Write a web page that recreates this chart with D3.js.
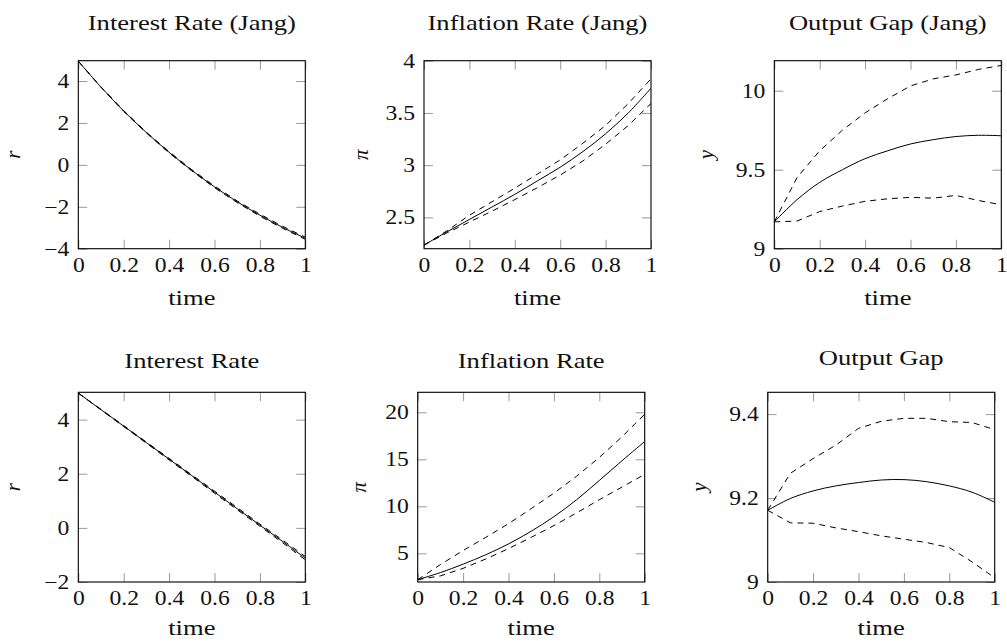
<!doctype html>
<html lang="en">
<head>
    <meta charset="UTF-8">
    <title>Interest, Inflation and Output Gap paths</title>
    <script src="https://d3js.org/d3.v7.min.js"></script>
    <style>
        body { margin: 0; background: #fff; }
        svg text { font-family: "Liberation Serif", "Times New Roman", serif; fill: #111; font-weight: normal; }
        .ticklab { font-size: 20px; }
        .label { font-size: 20px; }
        .ylab { font-size: 21px; font-style: italic; }
    </style>
</head>
<body>
<svg id="chart" width="1007" height="641"></svg>
<script>

    //shared time grid and ticks
    const time = [0, 0.1, 0.2, 0.3, 0.4, 0.5, 0.6, 0.7, 0.8, 0.9, 1];
    const timeTicks = [0, 0.2, 0.4, 0.6, 0.8, 1];

    //interest rate (Jang)
    const rJangMean  = [4.95, 3.71, 2.57, 1.54, 0.60, -0.26, -1.05, -1.76, -2.40, -2.98, -3.50];
    const rJangUpper = [4.95, 3.72, 2.59, 1.56, 0.63, -0.23, -1.01, -1.72, -2.35, -2.93, -3.45];
    const rJangLower = [4.95, 3.70, 2.55, 1.52, 0.57, -0.29, -1.09, -1.80, -2.45, -3.03, -3.55];
    const rJangTicks = [-4, -2, 0, 2, 4];

    //inflation rate (Jang)
    const piJangMean  = [2.234, 2.36, 2.48, 2.60, 2.72, 2.85, 2.98, 3.13, 3.30, 3.50, 3.737];
    const piJangUpper = [2.234, 2.37, 2.52, 2.65, 2.78, 2.915, 3.05, 3.21, 3.38, 3.59, 3.826];
    const piJangLower = [2.234, 2.35, 2.455, 2.56, 2.67, 2.785, 2.905, 3.04, 3.20, 3.38, 3.59];
    const piJangTicks = [2.5, 3, 3.5, 4];

    //output gap (Jang)
    const yJangMean  = [9.17, 9.31, 9.42, 9.50, 9.57, 9.62, 9.663, 9.69, 9.71, 9.718, 9.715];
    const yJangUpper = [9.17, 9.45, 9.62, 9.75, 9.86, 9.95, 10.03, 10.075, 10.10, 10.135, 10.16];
    const yJangLower = [9.17, 9.175, 9.235, 9.27, 9.30, 9.316, 9.325, 9.32, 9.337, 9.305, 9.278];
    const yJangTicks = [9, 9.5, 10];

    //interest rate
    const rMean  = [4.98, 4.37, 3.76, 3.15, 2.54, 1.93, 1.32, 0.71, 0.10, -0.50, -1.12];
    const rUpper = [4.98, 4.38, 3.78, 3.17, 2.57, 1.96, 1.36, 0.75, 0.14, -0.45, -1.06];
    const rLower = [4.98, 4.36, 3.74, 3.13, 2.51, 1.90, 1.28, 0.67, 0.06, -0.55, -1.18];
    const rTicks = [-2, 0, 2, 4];

    //inflation rate
    const piMean  = [2.2, 2.95, 3.85, 4.85, 6.0, 7.35, 8.9, 10.7, 12.75, 14.85, 16.9];
    const piUpper = [2.2, 3.8, 5.3, 6.7, 8.15, 9.75, 11.4, 13.2, 15.2, 17.4, 19.8];
    const piLower = [2.2, 2.6, 3.4, 4.4, 5.5, 6.7, 7.95, 9.3, 10.7, 12.05, 13.4];
    const piTicks = [5, 10, 15, 20];

    //output gap
    const yMean  = [9.171, 9.199, 9.217, 9.229, 9.237, 9.243, 9.244, 9.239, 9.229, 9.214, 9.19];
    const yUpper = [9.171, 9.259, 9.294, 9.326, 9.366, 9.383, 9.39, 9.39, 9.382, 9.38, 9.363];
    const yLower = [9.171, 9.141, 9.14, 9.129, 9.12, 9.11, 9.102, 9.094, 9.082, 9.048, 9.01];
    const yTicks = [9, 9.2, 9.4];

    //panel layout
    const W = 227;
    const TICK = 9;
    const TICK_SX = 1.18;  // horizontal stretch for tick labels
    const LAB_SX = 1.33;   // horizontal stretch for titles / time

    let panels = [
        {title: "Interest Rate (Jang)", ylab: "r", left: 78.3, top: 60.7, h: 188, titleY: 30, ylabX: -58,
            ydom: [-4, 4.97], yticks: rJangTicks, mean: rJangMean, upper: rJangUpper, lower: rJangLower},
        {title: "Inflation Rate (Jang)", ylab: "π", left: 424, top: 60.7, h: 188, titleY: 30, ylabX: -56,
            ydom: [2.2, 4], yticks: piJangTicks, mean: piJangMean, upper: piJangUpper, lower: piJangLower},
        {title: "Output Gap (Jang)", ylab: "y", left: 774.3, top: 60.7, h: 188, titleY: 30, ylabX: -61,
            ydom: [9, 10.19], yticks: yJangTicks, mean: yJangMean, upper: yJangUpper, lower: yJangLower},
        {title: "Interest Rate", ylab: "r", left: 78.3, top: 392.3, h: 189.7, titleY: 368, ylabX: -58,
            ydom: [-2, 5.01], yticks: rTicks, mean: rMean, upper: rUpper, lower: rLower},
        {title: "Inflation Rate", ylab: "π", left: 417.7, top: 392.3, h: 189.7, titleY: 368, ylabX: -52,
            ydom: [1.95, 22.13], yticks: piTicks, mean: piMean, upper: piUpper, lower: piLower},
        {title: "Output Gap", ylab: "y", left: 767.7, top: 392.3, h: 189.7, titleY: 365, ylabX: -62,
            ydom: [9, 9.452], yticks: yTicks, mean: yMean, upper: yUpper, lower: yLower}
    ];

    const fmt = d3.format("~g");
    const svg = d3.select("#chart");

    panels.forEach(function (p, i) {

        let g = svg.append("g")
            .attr("transform", "translate(" + p.left + "," + p.top + ")");

        let x = d3.scaleLinear().domain([0, 1]).range([0, W]);
        let y = d3.scaleLinear().domain(p.ydom).range([p.h, 0]);

        //clip curves to the axis box
        g.append("clipPath").attr("id", "clip" + i)
            .append("rect").attr("width", W).attr("height", p.h);

        //ticks on all four sides, pointing inwards
        let bottom = g.append("g").attr("transform", "translate(0," + p.h + ")")
            .call(d3.axisBottom(x).tickValues(timeTicks).tickSize(-TICK).tickPadding(9).tickFormat(fmt));
        let left = g.append("g")
            .call(d3.axisLeft(y).tickValues(p.yticks).tickSize(-TICK).tickPadding(9).tickFormat(fmt));
        g.append("g")
            .call(d3.axisTop(x).tickValues(timeTicks).tickSize(-TICK).tickFormat(""));
        g.append("g").attr("transform", "translate(" + W + ",0)")
            .call(d3.axisRight(y).tickValues(p.yticks).tickSize(-TICK).tickFormat(""));

        g.selectAll(".domain").remove();
        g.selectAll(".tick line").attr("stroke", "#9a9a9a").attr("stroke-width", 1);

        bottom.selectAll("text").attr("class", "ticklab")
            .attr("transform", "scale(" + TICK_SX + ",1)");
        left.selectAll("text").attr("class", "ticklab")
            .attr("x", -9 / TICK_SX)
            .attr("transform", "scale(" + TICK_SX + ",1)");

        //curves
        let solid = d3.line()
            .x(function (d, k) { return x(time[k]); })
            .y(function (d) { return y(d); })
            .curve(d3.curveCatmullRom.alpha(0.5));
        let dashed = d3.line()
            .x(function (d, k) { return x(time[k]); })
            .y(function (d) { return y(d); });

        let lines = g.append("g").attr("clip-path", "url(#clip" + i + ")");
        [p.upper, p.lower].forEach(function (s) {
            lines.append("path")
                .attr("d", dashed(s))
                .attr("fill", "none")
                .attr("stroke", "#000")
                .attr("stroke-width", 1)
                .attr("stroke-dasharray", "6,5");
        });
        lines.append("path")
            .attr("d", solid(p.mean))
            .attr("fill", "none")
            .attr("stroke", "#000")
            .attr("stroke-width", 1);

        //axis box
        g.append("rect")
            .attr("width", W).attr("height", p.h)
            .attr("fill", "none")
            .attr("stroke", "#000")
            .attr("stroke-width", 1.1);

        //title
        g.append("text").attr("class", "label")
            .attr("text-anchor", "middle")
            .attr("transform", "translate(" + (W / 2) + "," + (p.titleY - p.top) + ") scale(" + LAB_SX + ",1)")
            .text(p.title);

        //x label
        g.append("text").attr("class", "label")
            .attr("text-anchor", "middle")
            .attr("transform", "translate(" + (W / 2) + "," + (p.h + (i < 3 ? 56.5 : 53)) + ") scale(" + LAB_SX + ",1)")
            .text("time");

        //y label
        g.append("text").attr("class", "ylab")
            .attr("text-anchor", "middle")
            .attr("transform", "translate(" + p.ylabX + "," + (p.h / 2) + ") rotate(-90)")
            .text(p.ylab);
    });

</script>
</body>
</html>
